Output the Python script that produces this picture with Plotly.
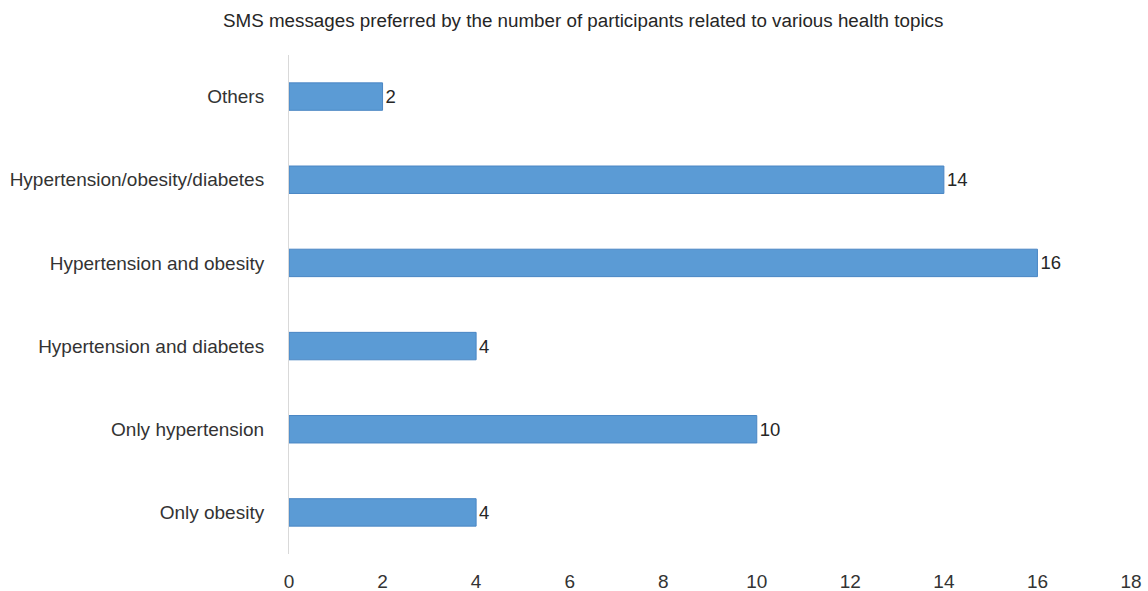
import plotly.graph_objects as go

categories = ["Others", "Hypertension/obesity/diabetes", "Hypertension and obesity",
              "Hypertension and diabetes", "Only hypertension", "Only obesity"]
values = [2, 14, 16, 4, 10, 4]
x_ticks = [0, 2, 4, 6, 8, 10, 12, 14, 16, 18]

FONT = "Liberation Sans, Arial, sans-serif"

fig = go.Figure(go.Bar(
    x=values, y=categories, orientation="h",
    marker=dict(color="#5B9BD5", line=dict(color="#4A86C4", width=1)),
    text=values, textposition="outside", cliponaxis=False,
    textfont=dict(size=18.5, color="#262626", family=FONT),
))

fig.update_layout(
    width=1148, height=591,
    margin=dict(l=289, r=17, t=55, b=37),
    paper_bgcolor="white", plot_bgcolor="white",
    bargap=0.67,
    showlegend=False,
    font=dict(family=FONT, size=19, color="#333333"),
    title=dict(text="SMS messages preferred by the number of participants related to various health topics",
               x=0.508, xref="container", xanchor="center", y=0.965, yanchor="middle",
               font=dict(size=18.8, color="#262626")),
)
fig.update_xaxes(range=[0, 18], tickvals=x_ticks, showgrid=False, zeroline=False,
                 showline=False, automargin=False, ticklabelstandoff=14,
                 tickfont=dict(size=19, color="#333333"))
fig.update_yaxes(autorange="reversed", showgrid=False, zeroline=False,
                 showline=True, linecolor="#D9D9D9", linewidth=1, automargin=False,
                 ticklabelstandoff=20, tickfont=dict(size=19, color="#333333"))

fig.write_html("out.html")
